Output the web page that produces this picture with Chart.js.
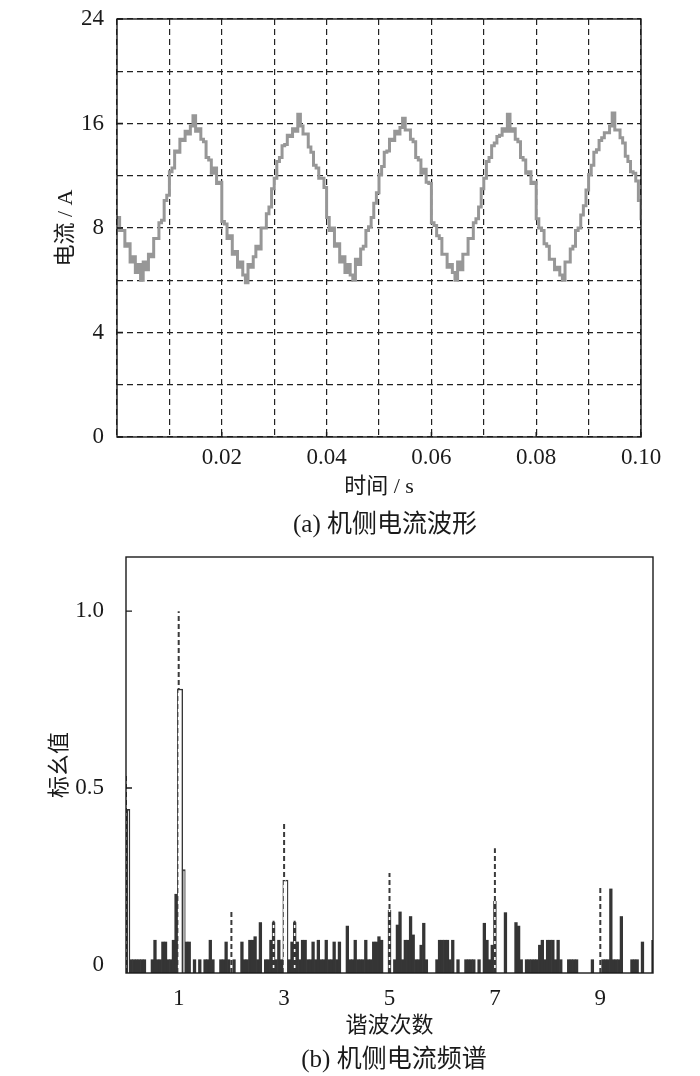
<!DOCTYPE html>
<html>
<head>
<meta charset="utf-8">
<script src="https://cdn.jsdelivr.net/npm/chart.js"></script>
<style>
  html, body { margin: 0; padding: 0; background: #fff; }
  #page { position: relative; width: 700px; height: 1076px; overflow: hidden; }
  canvas { position: absolute; left: 0; }
  .caption {
    position: absolute; transform: translate(-50%, -50%); white-space: nowrap;
    font-family: "Liberation Serif", "Noto Sans CJK SC", serif; font-size: 25px; color: #1a1a1a;
  }
</style>
</head>
<body>
<div id="page">
  <canvas id="wave" width="700" height="505" style="top:0"></canvas>
  <div class="caption" style="left:385px; top:521px">(a) 机侧电流波形</div>
  <canvas id="spec" width="700" height="505" style="top:540px"></canvas>
  <div class="caption" style="left:394px; top:1056px">(b) 机侧电流频谱</div>
</div>
<script>
const FONT = '"Liberation Serif", "Noto Sans CJK SC", serif';
const INK = '#1a1a1a';

// (a) current waveform, one sample every 0.5 ms
const SAMPLE_STEP_S = 0.0005;
const currentA = [
  8.8, 7.9, 7.9, 7.3, 7.4, 6.7, 6.9, 6.3, 6.6, 6.0, 6.7, 6.4, 7.0, 6.9, 7.6, 7.6, 8.4, 8.6, 10.1, 10.5,
  12.3, 12.6, 13.9, 13.8, 14.8, 14.7, 15.4, 15.2, 15.8, 16.6, 15.4, 15.6, 14.8, 14.6, 13.4, 13.2, 12.2, 12.6, 11.4, 11.5,
  8.5, 8.3, 7.6, 7.7, 7.0, 7.1, 6.5, 6.7, 6.2, 5.9, 6.6, 6.5, 6.9, 7.3, 7.2, 8.0, 8.0, 9.1, 9.6, 11.0,
  11.8, 13.1, 13.4, 14.3, 14.4, 15.1, 15.0, 15.6, 15.4, 16.7, 15.8, 15.2, 15.2, 14.2, 13.8, 12.8, 12.6, 11.8, 11.8, 11.1,
  8.8, 7.9, 8.0, 7.3, 7.4, 6.7, 6.9, 6.3, 6.6, 6.2, 6.0, 6.8, 6.6, 7.2, 7.3, 7.9, 8.1, 8.8, 9.9, 10.7,
  12.1, 12.7, 13.8, 13.9, 14.8, 14.7, 15.4, 15.2, 15.7, 16.4, 15.5, 15.5, 14.8, 14.6, 13.4, 13.2, 12.2, 12.5, 11.5, 11.4,
  8.4, 8.2, 7.7, 7.6, 7.0, 7.0, 6.5, 6.6, 6.3, 6.0, 6.7, 6.4, 7.0, 7.0, 7.6, 7.6, 8.4, 8.7, 9.6, 11.0,
  11.8, 13.1, 13.4, 14.3, 14.5, 15.0, 15.1, 15.6, 15.4, 16.7, 15.4, 15.6, 14.8, 14.6, 13.4, 13.2, 12.2, 12.3, 11.4, 11.5,
  8.7, 8.0, 7.9, 7.4, 7.3, 6.8, 6.8, 6.4, 6.5, 6.2, 6.0, 6.7, 6.7, 7.2, 7.3, 7.9, 8.0, 9.0, 9.7, 10.9,
  12.1, 12.8, 13.8, 14.0, 14.7, 14.9, 15.3, 15.3, 15.8, 16.8, 15.5, 15.5, 14.9, 14.5, 13.5, 13.1, 12.3, 12.2, 11.6, 10.1,
  8.6
];
const waveGridX = [0, 0.01, 0.02, 0.03, 0.04, 0.05, 0.06, 0.07, 0.08, 0.09, 0.1];
const waveLabelX = [0.02, 0.04, 0.06, 0.08, 0.1];
// the y axis of the original is not linear: these values sit on evenly spaced grid lines
const waveGridY = [0, 2, 4, 6, 8, 12, 16, 20, 24];
const waveLabelY = [0, 4, 8, 16, 24];

// (b) spectrum, per-unit value per 0.05-harmonic bin (null = empty bin)
const BIN_WIDTH_H = 0.05;
const spectrumPu = [
  null, 0.44, 0.015, 0.015, 0.015, 0.015, 0.015, 0.015, null, null, 0.015, 0.07, 0.015, 0.015, 0.065, 0.065, 0.015, 0.015, 0.07, 0.2,
  0.78, 0.78, 0.27, 0.065, 0.065, null, 0.015, null, 0.015, null, 0.015, 0.015, 0.07, 0.015, null, null, 0.015, 0.015, 0.065, 0.015,
  null, 0.015, null, null, 0.065, 0.015, 0.015, 0.07, 0.07, 0.08, 0.015, 0.12, null, 0.015, 0.015, 0.07, 0.12, 0.015, 0.07, 0.015,
  0.24, 0.24, 0.015, 0.065, 0.12, 0.065, 0.015, 0.07, 0.07, 0.015, 0.015, 0.065, 0.015, 0.07, 0.015, 0.015, 0.07, 0.015, 0.015, 0.065,
  0.015, 0.065, null, null, 0.11, 0.015, 0.015, 0.07, 0.015, 0.015, 0.015, 0.07, 0.015, 0.015, 0.065, 0.065, 0.08, 0.07, null, null,
  0.155, null, 0.015, 0.113, 0.15, 0.015, 0.07, 0.07, 0.137, 0.085, 0.015, 0.015, 0.056, 0.118, 0.015, null, null, null, 0.015, 0.07,
  0.07, 0.07, 0.07, 0.015, 0.07, null, 0.015, null, null, 0.015, 0.015, 0.015, 0.015, null, 0.015, null, 0.118, 0.07, 0.015, 0.056,
  0.18, null, null, null, 0.148, null, null, null, 0.12, 0.11, 0.015, null, 0.015, 0.015, 0.015, 0.015, 0.015, 0.056, 0.07, 0.015,
  0.07, 0.07, 0.07, 0.015, 0.07, 0.015, null, null, 0.015, 0.015, 0.015, 0.015, null, null, null, null, null, 0.015, null, null,
  null, 0.015, 0.015, 0.015, 0.215, 0.015, 0.015, 0.015, 0.137, null, null, null, 0.015, 0.015, 0.015, null, 0.065, null, null, null,
  0.07
];
// dashed reference lines (harmonic order, per-unit value)
const peakH = [0, 1, 2, 2.8, 3, 3.2, 5, 7, 9];
const peakPu = [0.54, 1.0, 0.15, 0.125, 0.40, 0.125, 0.26, 0.33, 0.22];
const specTickX = [1, 3, 5, 7, 9];
const specTickY = [0, 0.5, 1.0];
const SPEC_Y_MIN = -0.0226;
const SPEC_Y_MAX = 1.153;
const OUTLINE_MIN = 0.23;
const DARK = '#353535';

function gridDecimal(v) {
  const g = waveGridY, n = g.length - 1;
  if (v <= g[0]) return 0;
  for (let i = 0; i < n; i++) {
    if (v <= g[i + 1]) return (i + (v - g[i]) / (g[i + 1] - g[i])) / n;
  }
  return 1;
}

class PiecewiseScale extends Chart.LinearScale {
  static id = 'piecewise';
  getPixelForValue(value) {
    if (value === null || value === undefined) return NaN;
    return this.getPixelForDecimal(gridDecimal(value));
  }
  getValueForPixel(pixel) {
    const g = waveGridY;
    const d = this.getDecimalForPixel(pixel) * (g.length - 1);
    const i = Math.max(0, Math.min(Math.floor(d), g.length - 2));
    return g[i] + (d - i) * (g[i + 1] - g[i]);
  }
}
Chart.register(PiecewiseScale);

// full box round the plot and short inward tick marks
const framePlugin = {
  id: 'frame',
  afterDraw(chart, args, opts) {
    const { ctx, chartArea: a, scales } = chart;
    ctx.save();
    ctx.strokeStyle = INK;
    ctx.lineWidth = 1.4;
    ctx.strokeRect(a.left, a.top, a.right - a.left, a.bottom - a.top);
    ctx.beginPath();
    (opts.xTicks || []).forEach(v => {
      const x = scales.x.getPixelForValue(v);
      ctx.moveTo(x, a.bottom);
      ctx.lineTo(x, a.bottom - 5);
    });
    (opts.yTicks || []).forEach(v => {
      const y = scales.y.getPixelForValue(v);
      ctx.moveTo(a.left, y);
      ctx.lineTo(a.left + 6, y);
    });
    ctx.stroke();
    ctx.restore();
  }
};

// fixed box sizes, and no extra room for half labels at the ends
function fixBox(width, height) {
  return s => {
    if (width !== null) s.width = width;
    if (height !== null) s.height = height;
    s.paddingTop = 0; s.paddingBottom = 0; s.paddingLeft = 0; s.paddingRight = 0;
  };
}

const tickFont = { family: FONT, size: 23 };
const titleFont = { family: FONT, size: 22 };

new Chart(document.getElementById('wave'), {
  type: 'line',
  data: {
    datasets: [{
      data: currentA.map((y, i) => ({ x: i * SAMPLE_STEP_S, y })),
      borderColor: '#979797',
      borderWidth: 3,
      pointRadius: 0,
      stepped: true,
      tension: 0
    }]
  },
  options: {
    responsive: false,
    animation: false,
    events: [],
    layout: { padding: { top: 19, right: 59, left: 0, bottom: 0 } },
    plugins: {
      legend: { display: false },
      tooltip: { enabled: false },
      frame: { xTicks: waveLabelX, yTicks: waveLabelY }
    },
    scales: {
      x: {
        type: 'linear', min: 0, max: 0.1, z: 1,
        afterBuildTicks: s => { s.ticks = waveGridX.map(v => ({ value: v })); },
        afterFit: fixBox(null, 68),
        grid: { color: '#222', lineWidth: 1.2, drawTicks: false },
        border: { display: false, dash: [6, 4] },
        ticks: {
          font: tickFont, color: INK, padding: 7, maxRotation: 0, autoSkip: false,
          callback: v => waveLabelX.some(l => Math.abs(l - v) < 1e-9) ? v.toFixed(2) : ''
        },
        title: { display: true, text: '时间 / s', font: titleFont, color: INK, padding: { top: 0, bottom: 5 } }
      },
      y: {
        type: 'piecewise', min: 0, max: 24, z: 1,
        afterBuildTicks: s => { s.ticks = waveGridY.map(v => ({ value: v })); },
        afterFit: fixBox(117, null),
        grid: { color: '#222', lineWidth: 1.2, drawTicks: false },
        border: { display: false, dash: [6, 4] },
        ticks: {
          font: tickFont, color: INK, padding: 13, autoSkip: false,
          callback: v => waveLabelY.includes(v) ? String(v) : ''
        },
        title: { display: true, text: '电流 / A', font: titleFont, color: INK, padding: { top: 53, bottom: 0 } }
      }
    }
  },
  plugins: [framePlugin]
});

const peakLine = [];
peakH.forEach((h, i) => {
  peakLine.push({ x: h, y: SPEC_Y_MIN }, { x: h, y: peakPu[i] }, { x: h, y: null });
});

new Chart(document.getElementById('spec'), {
  type: 'bar',
  data: {
    datasets: [
      {
        type: 'line', data: peakLine, order: 3,
        borderColor: '#3a3a3a', borderWidth: 2, borderDash: [5, 3],
        pointRadius: 0, spanGaps: false
      },
      {
        type: 'bar', order: 2,
        data: spectrumPu.map((y, k) => ({ x: +(k * BIN_WIDTH_H).toFixed(2), y })),
        base: SPEC_Y_MIN,
        barPercentage: 1,
        categoryPercentage: 1,
        backgroundColor: c => (spectrumPu[c.dataIndex] >= OUTLINE_MIN ? '#fff' : DARK),
        borderColor: DARK,
        borderSkipped: false,
        borderWidth: c => {
          const i = c.dataIndex;
          const v = spectrumPu[i];
          if (i === undefined || v === null || v < OUTLINE_MIN) return 0;
          return {
            top: 1.5, bottom: 0,
            left: spectrumPu[i - 1] === v ? 0 : 1.5,
            right: spectrumPu[i + 1] === v ? 0 : 1.5
          };
        }
      },
      {
        type: 'line', data: peakLine, order: 1,
        borderColor: '#fff', borderWidth: 1.6, borderDash: [3, 5], borderDashOffset: 3,
        pointRadius: 0, spanGaps: false
      }
    ]
  },
  options: {
    responsive: false,
    animation: false,
    events: [],
    layout: { padding: { top: 17, right: 47, left: 0, bottom: 0 } },
    plugins: {
      legend: { display: false },
      tooltip: { enabled: false },
      frame: { xTicks: [], yTicks: [0.5, 1.0] }
    },
    scales: {
      x: {
        type: 'linear', min: 0, max: 10, offset: false,
        afterBuildTicks: s => { s.ticks = specTickX.map(v => ({ value: v })); },
        afterFit: fixBox(null, 72),
        grid: { display: false, offset: false },
        border: { display: false },
        ticks: { font: tickFont, color: INK, padding: 4, maxRotation: 0, autoSkip: false, callback: v => String(v) },
        title: { display: true, text: '谐波次数', font: titleFont, color: INK, padding: { top: 0, bottom: 6 } }
      },
      y: {
        type: 'linear', min: SPEC_Y_MIN, max: SPEC_Y_MAX,
        afterBuildTicks: s => { s.ticks = specTickY.map(v => ({ value: v })); },
        afterFit: fixBox(126, null),
        grid: { display: false },
        border: { display: false },
        ticks: { font: tickFont, color: INK, padding: 14, autoSkip: false, callback: v => (v === 0 ? '0' : v.toFixed(1)) },
        title: { display: true, text: '标幺值', font: titleFont, color: INK, padding: { top: 47, bottom: 0 } }
      }
    }
  },
  plugins: [framePlugin]
});
</script>
</body>
</html>
